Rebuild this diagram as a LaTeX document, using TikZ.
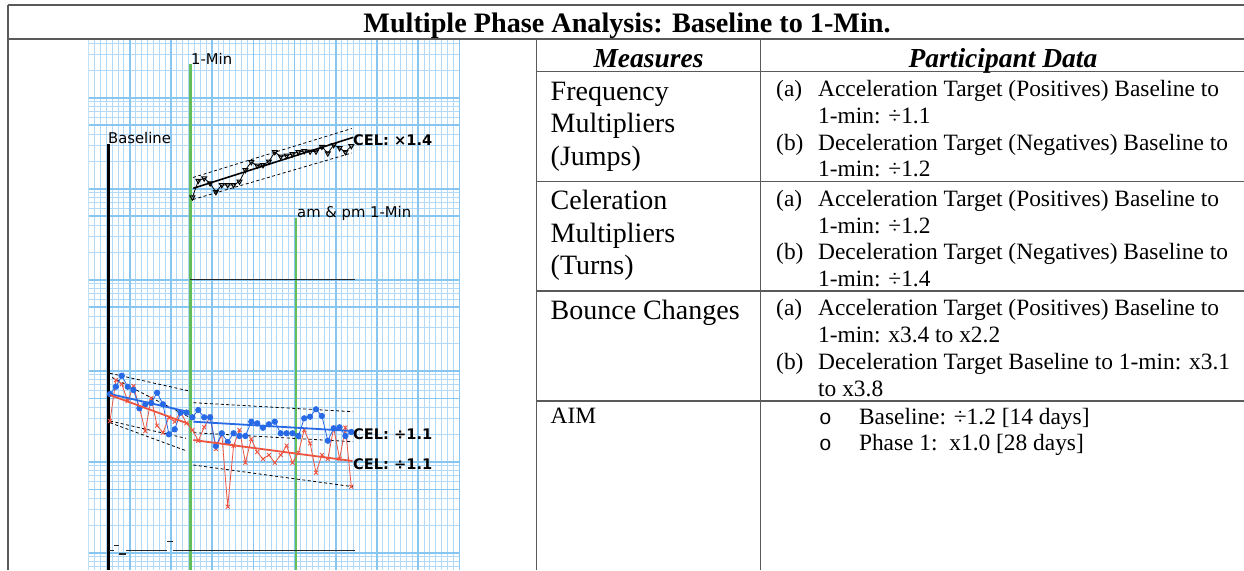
\documentclass[tikz,border=0pt]{standalone}
\usepackage{fontspec}
\setmainfont{Liberation Serif}
\newfontfamily\dvsans{DejaVu Sans}
\newfontfamily\cmono{Liberation Mono}
\usetikzlibrary{plotmarks}
\definecolor{gridmaj}{RGB}{135,198,240}
\definecolor{gridmin}{RGB}{178,218,248}
\definecolor{phasegreen}{RGB}{100,190,90}
\definecolor{bluedat}{RGB}{40,105,230}
\definecolor{reddat}{RGB}{238,85,65}
\definecolor{tabline}{RGB}{90,90,90}
\begin{document}
\begin{tikzpicture}[x=1pt,y=-1pt,
  tline/.style={draw=tabline, line width=1.5pt},
  body/.style={anchor=base west, inner sep=0pt, font=\fontsize{23.4}{27}\selectfont},
  meas/.style={anchor=base west, inner sep=0pt, font=\fontsize{28}{32}\selectfont},
  hdr/.style={anchor=base, inner sep=0pt, font=\fontsize{27.5}{30}\selectfont\bfseries\itshape},
  chartlbl/.style={anchor=base west, inner sep=0pt, font=\dvsans\fontsize{14.8}{16}\selectfont},
  cellbl/.style={anchor=base west, inner sep=0pt, font=\dvsans\bfseries\fontsize{14.6}{16}\selectfont},
  dashline/.style={black, line width=0.8pt, dash pattern=on 3pt off 2.5pt},
  phaseline/.style={phasegreen, line width=2.8pt},
  floorline/.style={black!85, line width=1.4pt}]
\useasboundingbox (0,0) rectangle (1244,570);
\fill[white] (0,0) rectangle (1244,570);
% ---------- chart grid ----------
\begin{scope}
\clip (88.5,39) rectangle (460,570);
\foreach \i in {0,...,63}
  \draw[gridmin, line width=0.8pt] ({88.5+5.886*\i},39) -- ({88.5+5.886*\i},570);
\foreach \k in {0,...,6}
  \foreach \n in {2,...,9}
    \draw[gridmin, line width=0.8pt] (88.5,{97.7+91*\k-91*log10(\n)}) -- (460,{97.7+91*\k-91*log10(\n)});
\foreach \k in {0,...,6}
  \draw[gridmaj, line width=1.2pt] (88.5,{97.7+91*\k-91*log10(5)}) -- (460,{97.7+91*\k-91*log10(5)});
\foreach \i in {0,...,9}
  \draw[gridmaj, line width=1.6pt] ({88.5+41.2*\i},39) -- ({88.5+41.2*\i},570);
\foreach \k in {0,...,5}
  \draw[gridmaj, line width=1.8pt] (88.5,{97.7+91*\k}) -- (460,{97.7+91*\k});
\end{scope}
% ---------- phase lines ----------
\draw[black, line width=3pt] (108,144) -- (108,570);
\draw[phaseline] (190.4,64) -- (190.4,570);
\draw[phaseline] (296,218) -- (296,570);
\node[chartlbl] (lblmin) at (191,64) {1-Min};
\node[chartlbl] (lblbase) at (108,143.5) {Baseline};
\node[chartlbl] (lblampm) at (297,217.5) {am \& pm 1-Min};
% floor lines
\draw[floorline] (190,279.7) -- (354.7,279.7);
\draw[floorline] (109.3,550.7) -- (114.3,550.7);
\draw[floorline] (114.3,545.7) -- (119.3,545.7);
\draw[floorline] (119.3,554) -- (126,554);
\draw[floorline] (126,550.7) -- (167,550.7);
\draw[floorline] (167,541.7) -- (172.7,541.7);
\draw[floorline] (172.7,550.7) -- (355.3,550.7);
% ---------- upper series (triangles) ----------
\draw[dashline] (193,177.5) -- (351.7,128.5);
\draw[dashline] (193,199.5) -- (351.7,153);
\draw[black, line width=1.6pt] (193.3,188.3) -- (353.3,137.3);
\draw[black, line width=0.8pt] plot[mark=triangle, mark size=2.8pt, mark options={rotate=180, line width=1pt}] coordinates {
(192.4,197.3) (198.3,180.7) (204.2,178.3) (210.1,183.3) (215.9,192) (221.8,185) (227.7,185) (233.6,185) (239.5,181.5) (245.4,170) (251.3,162) (257.2,165.5) (263.0,165) (268.9,161.5) (274.8,152) (280.7,156.5) (286.6,155.5) (292.5,154) (298.4,152) (304.2,151) (310.1,151.5) (316.0,151.5) (321.9,146.7) (327.8,153.3) (333.7,145) (339.6,148) (345.4,152) (351.3,146)};
\node[cellbl] (cel1) at (353,145.7) {CEL: ×1.4};
% ---------- lower series ----------
\draw[dashline] (110,373.3) -- (188,390.7);
\draw[dashline] (112,377.5) -- (188,416.5);
\draw[dashline] (110,421) -- (186,438.3);
\draw[dashline] (110,422.7) -- (186,450.7);
\draw[dashline] (193.3,402.7) -- (353,411.7);
\draw[dashline] (193.3,432.7) -- (353,441.7);
\draw[dashline] (193.3,465) -- (353,486.7);
\draw[reddat, line width=0.8pt] plot[mark=x, mark size=2.8pt, mark options={line width=0.9pt}] coordinates {
(110.0,421) (115.9,380) (121.8,384.3) (127.7,401) (133.5,386) (139.4,408) (145.3,431) (151.2,398.3) (157.1,425.7) (163.0,432.7) (168.9,417.3) (174.7,421.7) (180.6,412) (186.5,423.3) (192.4,430) (198.3,440.7) (204.2,427.3) (210.1,416.7) (215.9,449) (221.8,434) (227.7,506.7) (233.6,445.7) (239.5,430) (245.4,462.7) (251.3,439) (257.2,452) (263.0,459) (268.9,455) (274.8,462.7) (280.7,455) (286.6,445.7) (292.5,462.7) (298.4,452.7) (304.2,430) (310.1,443.3) (316.0,472.7) (321.9,455) (327.8,459) (333.7,427.7) (339.6,459) (345.4,427.7) (351.3,486.7)};
\draw[bluedat, line width=0.8pt] plot[mark=*, mark size=2.7pt, mark options={fill=bluedat}] coordinates {
(110.0,394) (115.9,386.7) (121.8,375.7) (127.7,386.7) (133.5,390) (139.4,408.3) (145.3,404.3) (151.2,403) (157.1,392.7) (163.0,404.3) (168.9,434.3) (174.7,429.3) (180.6,412.7) (186.5,412.5) (192.4,417.3) (198.3,410) (204.2,417.3) (210.1,417.3) (215.9,446) (221.8,433.3) (227.7,442) (233.6,433.3) (239.5,436) (245.4,436) (251.3,421.7) (257.2,423.3) (263.0,427.7) (268.9,424.3) (274.8,421.7) (280.7,433.3) (286.6,433.3) (292.5,433.3) (298.4,436) (304.2,418.3) (310.1,416.7) (316.0,409.3) (321.9,416) (327.8,440.7) (333.7,428.3) (339.6,427.3) (345.4,436) (351.3,432)};
\draw[bluedat, line width=1.8pt] (110,394) -- (189,412);
\draw[reddat, line width=1.8pt] (110,395) -- (189,424);
\draw[bluedat, line width=1.8pt] (193.3,421.7) -- (352.5,431);
\draw[reddat, line width=1.8pt] (193.3,440) -- (352.5,461);
\node[cellbl] (cel2) at (353,439) {CEL: ÷1.1};
\node[cellbl] (cel3) at (353,469) {CEL: ÷1.1};
% ---------- table ----------
\draw[tline] (8,5) -- (1244,5);
\draw[tline] (8,39) -- (1244,39);
\draw[tline] (8,5) -- (8,570);
\draw[tline] (536.5,39) -- (536.5,570);
\draw[tline] (760.5,39) -- (760.5,570);
\draw[tline] (536.5,71.7) -- (1244,71.7);
\draw[tline] (536.5,181.7) -- (1244,181.7);
\draw[tline] (536.5,291) -- (1244,291);
\draw[tline] (536.5,401) -- (1244,401);
\node[anchor=base, inner sep=0pt, font=\fontsize{28.2}{30}\selectfont\bfseries] (title) at (627,32.3) {Multiple Phase Analysis: Baseline to 1-Min.};
\node[hdr] (hmeas) at (648.5,67.7) {Measures};
\node[hdr] (hpart) at (1003,67.7) {Participant Data};
% measures column
\node[meas] (f1) at (550.5,100) {Frequency};
\node[meas] (f2) at (550.5,132.5) {Multipliers};
\node[meas] (f3) at (550.5,165) {(Jumps)};
\node[meas] (c1) at (550.5,209.5) {Celeration};
\node[meas] (c2) at (550.5,242) {Multipliers};
\node[meas] (c3) at (550.5,274.5) {(Turns)};
\node[meas] (b1) at (550.5,319.3) {Bounce Changes};
\node[body] (aim) at (550.5,423.3) {AIM};
% participant data
\node[body] (fa) at (776,96.7) {(a)};
\node[body] (fat) at (818,96.7) {Acceleration Target (Positives) Baseline to};
\node[body] (fat2) at (818,123.2) {1-min: ÷1.1};
\node[body] (fb) at (776,150) {(b)};
\node[body] (fbt) at (818,150) {Deceleration Target (Negatives) Baseline to};
\node[body] (fbt2) at (818,176.7) {1-min: ÷1.2};
\node[body] (ca) at (776,206.7) {(a)};
\node[body] (cat) at (818,206.7) {Acceleration Target (Positives) Baseline to};
\node[body] (cat2) at (818,233.3) {1-min: ÷1.2};
\node[body] (cb) at (776,259.8) {(b)};
\node[body] (cbt) at (818,259.8) {Deceleration Target (Negatives) Baseline to};
\node[body] (cbt2) at (818,286.2) {1-min: ÷1.4};
\node[body] (ba) at (776,315.7) {(a)};
\node[body] (bat) at (818,315.7) {Acceleration Target (Positives) Baseline to};
\node[body] (bat2) at (818,342.3) {1-min: x3.4 to x2.2};
\node[body] (bb) at (776,369.3) {(b)};
\node[body] (bbt) at (818,369.3) {Deceleration Target Baseline to 1-min: x3.1};
\node[body] (bbt2) at (818,396) {to x3.8};
\node[body, font=\cmono\fontsize{21}{24}\selectfont] (ab1) at (819,424) {o};
\node[body] (abt1) at (858.8,424) {Baseline: ÷1.2 [14 days]};
\node[body, font=\cmono\fontsize{21}{24}\selectfont] (ab2) at (819,450.7) {o};
\node[body] (abt2) at (858.8,450.7) {Phase 1:\ \ x1.0 [28 days]};
\end{tikzpicture}
\end{document}
